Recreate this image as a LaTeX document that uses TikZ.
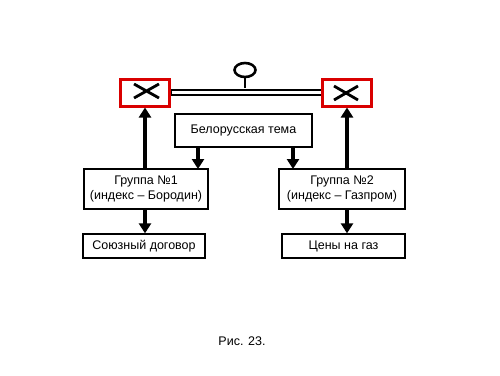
\documentclass[tikz,border=0pt]{standalone}
\usepackage{fontspec}
\setmainfont{Liberation Sans}
\usetikzlibrary{arrows.meta}
\begin{document}
\begin{tikzpicture}[x=1pt,y=-1pt,
  box/.style={draw=black,line width=1.3pt,fill=white,inner sep=0pt,align=center,font=\fontsize{12.5}{14.5}\selectfont},
  redbox/.style={draw=red!85!black,line width=3pt,inner sep=0pt,minimum width=49pt,minimum height=27pt},
  arr/.style={line width=3.2pt,-{Triangle[length=10pt,width=12pt]}},
  cross/.style={line width=2.8pt}]
\useasboundingbox (0,0) rectangle (500,375);
\fill[white] (0,0) rectangle (500,375);
% red boxes
\node[redbox] (L) at (145,92.5) {};
\node[redbox] (R) at (347,92.5) {};
\draw[cross] (134,84) -- (159,98) (134,98) -- (159,84);
\draw[cross] (334,86) -- (358,100) (334,100) -- (358,86);
% double connector
\draw[line width=6.5pt] (L.east) -- (R.west);
\draw[line width=2.4pt,white] ([xshift=0.5pt]L.east) -- ([xshift=-0.5pt]R.west);
\coordinate (pin) at (245,88);
\draw[line width=2.8pt] (pin) -- (245,77.5);
\draw[line width=2.6pt] (245,70) ellipse (10.5pt and 7pt);
% boxes
\node[box,minimum width=137pt,minimum height=33pt] (B) at (243.5,130.5) {Белорусская тема};
\node[box,minimum width=124pt,minimum height=40pt] (G1) at (146,189) {Группа №1\\(индекс – Бородин)};
\node[box,minimum width=126pt,minimum height=40pt] (G2) at (342,189) {Группа №2\\(индекс – Газпром)};
\node[box,minimum width=122pt,minimum height=24pt] (S) at (144,246) {Союзный договор};
\node[box,minimum width=123pt,minimum height=24pt] (C) at (343.5,246) {Цены на газ};
% arrows
\draw[arr] (L.south |- G1.north) -- (L.south);
\draw[arr] (R.south |- G2.north) -- (R.south);
\draw[arr] (198,147) -- (198,169);
\draw[arr] (293,147) -- (293,169);
\draw[arr] (L.south |- G1.south) -- (L.south |- S.north);
\draw[arr] (R.south |- G2.south) -- (R.south |- C.north);
\node[font=\fontsize{12.5}{14.5}\selectfont] (cap) at (242,341) {Рис. 23.};
\end{tikzpicture}
\end{document}
